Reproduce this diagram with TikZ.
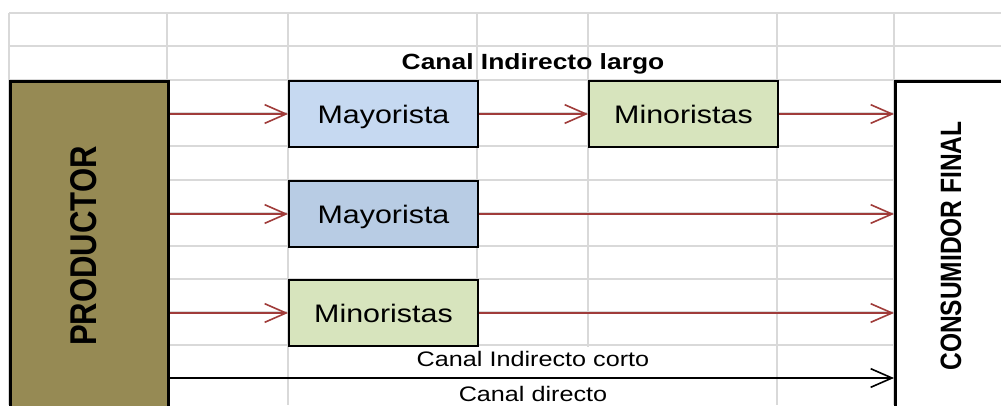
\documentclass[tikz,border=0pt]{standalone}
\usepackage{fontspec}
\setmainfont{Liberation Sans}
\newfontfamily\arialw[FakeStretch=1.2]{Liberation Sans}
\newfontfamily\arialn{Liberation Sans}
\usetikzlibrary{arrows.meta}
\definecolor{olivebox}{RGB}{150,138,84}
\definecolor{mayA}{RGB}{198,217,241}
\definecolor{mayB}{RGB}{184,204,228}
\definecolor{minC}{RGB}{215,228,189}
\definecolor{gridc}{RGB}{217,217,217}
\definecolor{arrred}{RGB}{160,60,58}
\tikzset{
  gridline/.style={draw=gridc, line width=1.1pt},
  chanbox/.style={draw=black, line width=1.5pt, anchor=north west, inner sep=0pt,
    text height=13.7pt, text depth=0pt,
    minimum width=189*0.75pt, minimum height=66*0.75pt, font=\arialw\fontsize{19}{22}\selectfont},
  endbox/.style={draw=black, line width=2.3pt, anchor=north west, inner sep=0pt},
  redarrow/.style={draw=arrred, line width=1.2pt, -{Straight Barb[length=16pt, width=14pt, line width=1.2pt]}},
  blackarrow/.style={draw=black, line width=1.2pt, -{Straight Barb[length=16pt, width=14pt, line width=1.2pt]}},
  lbl/.style={inner sep=0pt, font=\arialw\fontsize{15.75}{18}\selectfont},
}
\begin{document}
\begin{tikzpicture}[x=0.75pt, y=-0.75pt]
\clip (0,0) rectangle (1001,405);
\fill[white] (0,0) rectangle (1001,405);
% grid
\foreach \gx in {9,167,288,477,588,777,894}
  \draw[gridline] (\gx,13) -- (\gx,405);
\foreach \gy in {13,46,80,113,146,180,213,246,279,312,345,378}
  \draw[gridline] (9,\gy) -- (1001,\gy);
% white area under bottom labels
\fill[white] (300,346.5) rectangle (770,405);
% end boxes
\node[endbox, fill=olivebox, minimum width=158*0.75pt, minimum height=360*0.75pt] (prod) at (9,80) {};
\node[endbox, fill=white, minimum width=160*0.75pt, minimum height=360*0.75pt] (cons) at (894,80) {};
\node[font=\arialn\bfseries\fontsize{23.3}{26}\selectfont, inner sep=0pt, xscale=1.2, rotate=90] (prodlbl) at (84,246) {PRODUCTOR};
\node[font=\arialn\bfseries\fontsize{18.4}{21}\selectfont, inner sep=0pt, xscale=1.2, rotate=90] (conslbl) at (951,246) {CONSUMIDOR FINAL};
% channel boxes
\node[chanbox, fill=mayA] (may1) at (288,80) {Mayorista};
\node[chanbox, fill=minC] (min1) at (588,80) {Minoristas};
\node[chanbox, fill=mayB] (may2) at (288,180) {Mayorista};
\node[chanbox, fill=minC] (min2) at (288,279) {Minoristas};
% labels
\node[lbl, font=\arialw\bfseries\fontsize{16.5}{19}\selectfont] (largo) at (533,64) {Canal Indirecto largo};
\node[lbl] (corto) at (533,359) {Canal Indirecto corto};
\node[lbl] (directo) at (533,394) {Canal directo};
% arrows
\coordinate (d) at (0,378);
\draw[redarrow] (prod.east |- may1.west) -- (may1.west);
\draw[redarrow] (may1.east) -- (min1.west);
\draw[redarrow] (min1.east) -- (cons.west |- min1.east);
\draw[redarrow] (prod.east |- may2.west) -- (may2.west);
\draw[redarrow] (may2.east) -- (cons.west |- may2.east);
\draw[redarrow] (prod.east |- min2.west) -- (min2.west);
\draw[redarrow] (min2.east) -- (cons.west |- min2.east);
\draw[blackarrow] (prod.east |- d) -- (cons.west |- d);
\end{tikzpicture}
\end{document}
